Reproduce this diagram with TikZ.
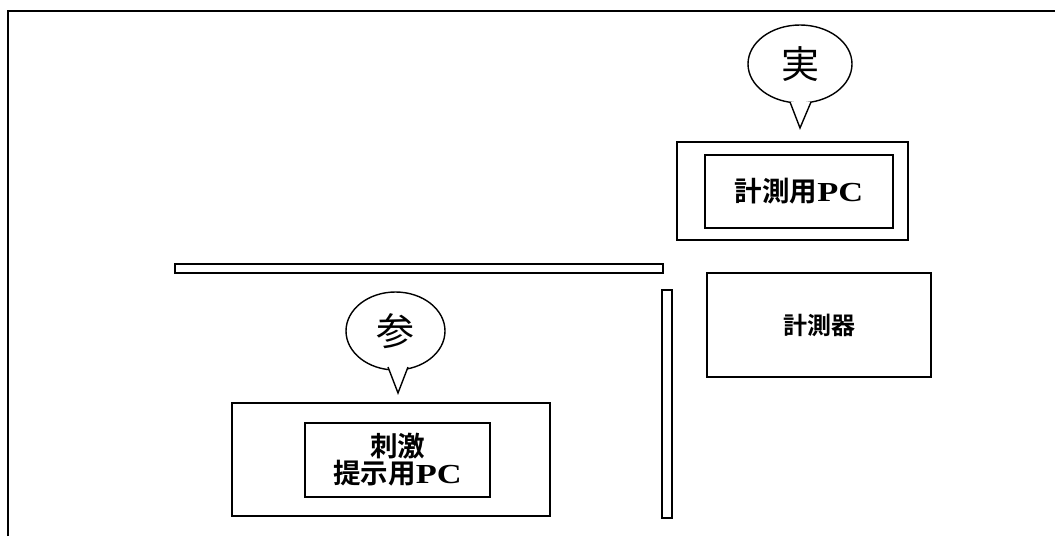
\documentclass[tikz,border=0pt]{standalone}
\usepackage{fontspec}
\newfontfamily\cjk{Noto Sans CJK JP}
\newfontfamily\cjkb{Noto Sans CJK JP Bold}
\newfontfamily\pcfont[FakeStretch=1.25]{Liberation Serif}
\usetikzlibrary{shapes.geometric}
\begin{document}
\begin{tikzpicture}[x=1pt,y=-1pt,
  box/.style={draw,line width=1.4pt,inner sep=0pt},
  lbl/.style={font=\cjkb\fontsize{27.5}{26}\selectfont,align=center},
  balloon/.style={draw,ellipse,line width=1.4pt,inner sep=0pt},
  bar/.style={draw,line width=1.4pt}]
\useasboundingbox (0,0) rectangle (1055,536);
% frame
\draw[line width=2pt] (8,536) -- (8,11) -- (1055,11);
% 実 balloon
\node[balloon,minimum width=104pt,minimum height=78pt] (jitsu) at (800,64) {};
\node[font=\cjk\fontsize{38}{38}\selectfont] at (jitsu.center) {実};
\coordinate (jt) at (800,128);
\draw[line width=1.4pt,fill=white] (790,102) -- (jt) -- (811,102);
% 計測用PC
\node[box,minimum width=231pt,minimum height=98pt] (outerA) at (792.5,191) {};
\node[box,minimum width=188pt,minimum height=73pt] (innerA) at (799,191.5) {};
\node[lbl] at (innerA.center) {計測用{\pcfont\bfseries PC}};
% bars
\node[bar,minimum width=488pt,minimum height=9pt,inner sep=0pt] (hbar) at (419,268.5) {};
\node[bar,minimum width=10pt,minimum height=228pt,inner sep=0pt] (vbar) at (667,404) {};
% 計測器
\node[box,minimum width=224pt,minimum height=104pt] (meter) at (819,325) {};
\node[lbl,font=\cjkb\fontsize{24}{28}\selectfont] at (meter.center) {計測器};
% 参 balloon
\node[balloon,minimum width=99pt,minimum height=78pt] (san) at (395.5,331) {};
\node[font=\cjk\fontsize{38}{38}\selectfont] at (san.center) {参};
\coordinate (st) at (398,393);
\draw[line width=1.4pt,fill=white] (388,367) -- (st) -- (408,367);
% 刺激提示用PC
\node[box,minimum width=318pt,minimum height=113pt] (outerB) at (391,459.5) {};
\node[box,minimum width=185pt,minimum height=74pt] (innerB) at (397.5,460) {};
\node[lbl] at (innerB.center) {刺激\\提示用{\pcfont\bfseries PC}};
\end{tikzpicture}
\end{document}
